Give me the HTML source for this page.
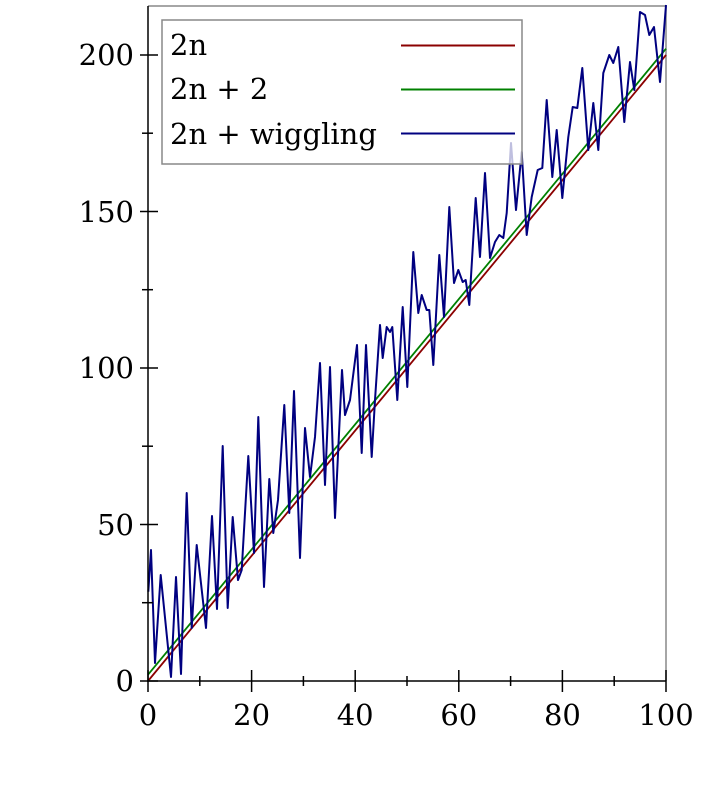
<!DOCTYPE html>
<html><head><style>body{margin:0;background:#fff}svg{display:block}</style></head><body>
<svg width="702" height="812" xmlns="http://www.w3.org/2000/svg" font-family="DejaVu Serif, serif" font-size="29">
<rect width="702" height="812" fill="#fff"/>
<line x1="148" y1="6" x2="666" y2="6" stroke="#888" stroke-width="1.5"/>
<line x1="666" y1="6" x2="666" y2="681" stroke="#888" stroke-width="1.5"/>
<line x1="148" y1="681" x2="666" y2="55" stroke="#8b0000" stroke-width="1.8"/>
<line x1="148" y1="674.7" x2="666" y2="48.7" stroke="#008000" stroke-width="1.8"/>
<polyline fill="none" stroke="#000080" stroke-width="2" stroke-linejoin="round" points="148.3,591.7 151,550 155,663 160.7,575 171,677 176,577 181,674 186.7,493 191.7,628 196.7,545 206,628 212,516 217,609 222.7,446 227.7,608 232.7,517 238,580 241.7,570 248.3,456 254,553 258.3,417 264,587 269.3,479 273.3,533 278,500 284.3,405 289.3,513 294,391 300,558 305,428 310,477 315,437 320,363 325,485 330,367 335,518 342,370 345,415 350,400 357,345 361.7,453 366,345 371.7,457 375,400 380,325 382.7,358 386.7,327 390,332 392.3,327 397.3,400 402.7,307 407.3,387 413.3,252 418.3,313 421.7,295 426.7,310 429.3,310 433.3,365 439.3,255 444,317 449.3,207 454,283 458.3,270 462.7,282 465.7,280 469.3,305 475.7,198 480,257 485,173 490,258 495,242 499.3,235 503.3,238 506.7,213 511,143 516,210 521.7,152 526.7,235 531.7,197 537.7,170 542.3,168 546.7,100 552.3,177 556.7,130 562.3,198 568.3,137 572.7,107 577.3,108 582.3,68 588.3,150 593.3,103 598.3,150 603.3,73 609.3,55 613.3,63 618.3,47 624.3,122 630,62 634.3,90 640,12 645,15 649.3,35 654,27 660,82 666,5"/>
<g stroke="#000" stroke-width="1.5">
<line x1="148" y1="6" x2="148" y2="682"/>
<line x1="147" y1="681" x2="666" y2="681"/>
<line x1="140" y1="681" x2="158" y2="681"/><line x1="140" y1="524.5" x2="158" y2="524.5"/><line x1="140" y1="368" x2="158" y2="368"/><line x1="140" y1="211.5" x2="158" y2="211.5"/><line x1="140" y1="55" x2="158" y2="55"/>
<line x1="142" y1="602.7" x2="153" y2="602.7"/><line x1="142" y1="446.2" x2="153" y2="446.2"/><line x1="142" y1="289.7" x2="153" y2="289.7"/><line x1="142" y1="133.2" x2="153" y2="133.2"/>
<line x1="148" y1="670" x2="148" y2="692"/><line x1="251.6" y1="670" x2="251.6" y2="692"/><line x1="355.2" y1="670" x2="355.2" y2="692"/><line x1="458.8" y1="670" x2="458.8" y2="692"/><line x1="562.4" y1="670" x2="562.4" y2="692"/><line x1="666" y1="670" x2="666" y2="692"/>
<line x1="199.8" y1="676" x2="199.8" y2="686"/><line x1="303.4" y1="676" x2="303.4" y2="686"/><line x1="407" y1="676" x2="407" y2="686"/><line x1="510.6" y1="676" x2="510.6" y2="686"/><line x1="614.2" y1="676" x2="614.2" y2="686"/>
</g>
<g text-anchor="end">
<text x="134" y="691">0</text><text x="134" y="535">50</text><text x="134" y="378">100</text><text x="134" y="222">150</text><text x="134" y="65">200</text>
</g>
<g text-anchor="middle">
<text x="148" y="725">0</text><text x="251.6" y="725">20</text><text x="355.2" y="725">40</text><text x="458.8" y="725">60</text><text x="562.4" y="725">80</text><text x="666" y="725">100</text>
</g>
<rect x="162" y="20" width="360" height="144" fill="#fff" fill-opacity="0.75" stroke="#888" stroke-width="1.5"/>
<text x="170" y="55">2n</text><text x="170" y="99">2n + 2</text><text x="170" y="144">2n + wiggling</text>
<line x1="401" y1="45.5" x2="515" y2="45.5" stroke="#8b0000" stroke-width="2"/>
<line x1="401" y1="89.5" x2="515" y2="89.5" stroke="#008000" stroke-width="2"/>
<line x1="401" y1="133.5" x2="515" y2="133.5" stroke="#000080" stroke-width="2"/>
</svg>
</body></html>
